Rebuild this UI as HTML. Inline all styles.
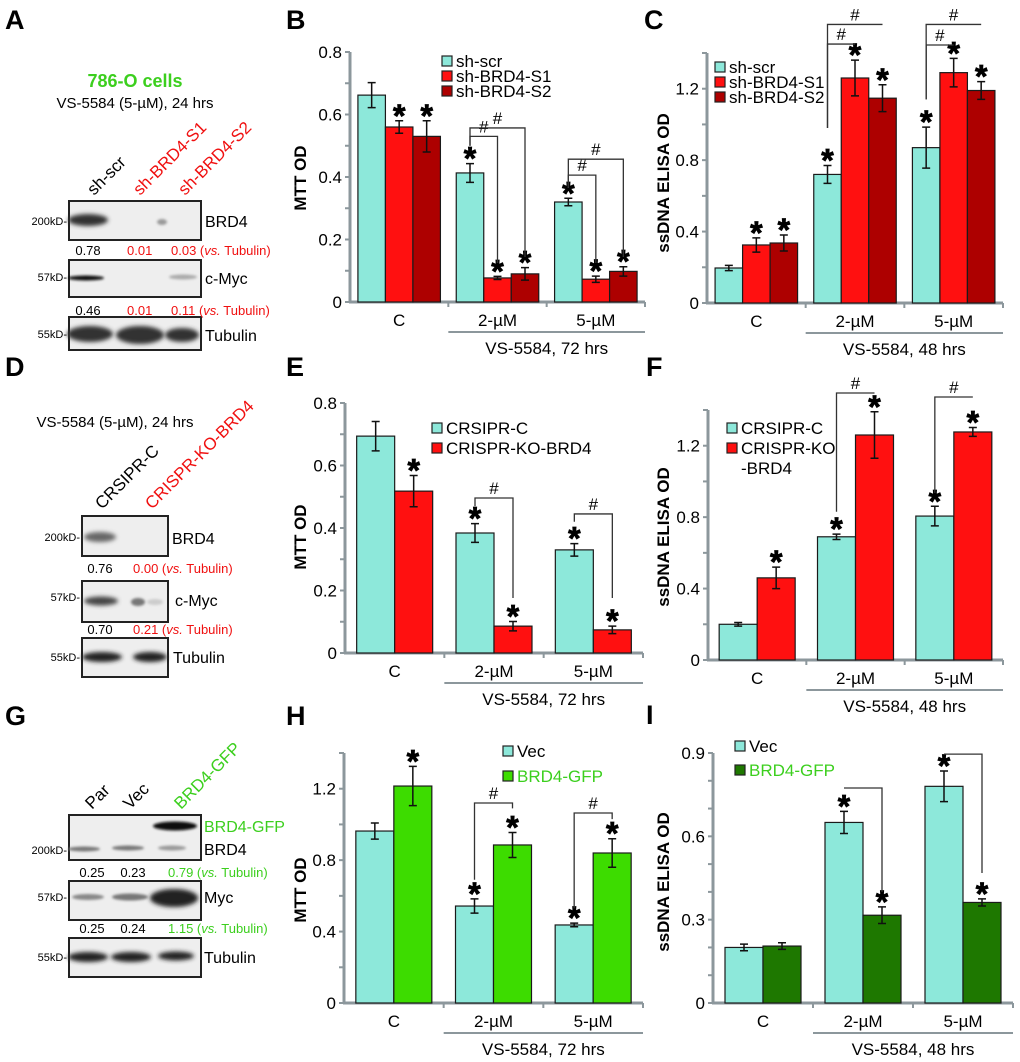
<!DOCTYPE html>
<html><head><meta charset="utf-8">
<style>
html,body{margin:0;padding:0;background:#fff;}
svg{display:block;font-family:"Liberation Sans",Arial,sans-serif;}
</style></head>
<body>
<svg id="fig" width="1020" height="1062" viewBox="0 0 1020 1062" xmlns="http://www.w3.org/2000/svg">
<defs>
<filter id="blur2" x="-50%" y="-100%" width="200%" height="300%"><feGaussianBlur stdDeviation="2.2"/></filter>
<filter id="blur1" x="-50%" y="-100%" width="200%" height="300%"><feGaussianBlur stdDeviation="1.2"/></filter>
</defs>
<g font-weight="bold" font-size="27" fill="#000">
<text x="5" y="29">A</text>
<text x="286" y="29">B</text>
<text x="644" y="29">C</text>
<text x="5" y="376">D</text>
<text x="286" y="376">E</text>
<text x="646" y="376">F</text>
<text x="5" y="725">G</text>
<text x="286" y="725">H</text>
<text x="646" y="724">I</text>
</g>

<!-- Panel A blot -->
<g>
<text x="135" y="87" text-anchor="middle" font-size="18" font-weight="bold" fill="#3ccf1e">786-O cells</text>
<text x="135" y="108" text-anchor="middle" font-size="15">VS-5584 (5-µM), 24 hrs</text>
<text transform="translate(94,196) rotate(-45)" font-size="17">sh-scr</text>
<text transform="translate(140,196) rotate(-45)" font-size="17" fill="#f01010">sh-BRD4-S1</text>
<text transform="translate(185,196) rotate(-45)" font-size="17" fill="#f01010">sh-BRD4-S2</text>
<rect x="69" y="201" width="132" height="39" fill="#eeeeee" stroke="#222" stroke-width="2"/>
<ellipse cx="88" cy="220" rx="20" ry="6" fill="#333" filter="url(#blur2)"/>
<ellipse cx="162" cy="222" rx="5" ry="3" fill="#999" filter="url(#blur1)"/>
<rect x="69" y="260" width="132" height="37" fill="#eeeeee" stroke="#222" stroke-width="2"/>
<ellipse cx="86" cy="278" rx="18" ry="2.5" fill="#111" filter="url(#blur1)"/>
<ellipse cx="183" cy="277" rx="14" ry="2.5" fill="#aaa" filter="url(#blur1)"/>
<rect x="69" y="317" width="132" height="33" fill="#eeeeee" stroke="#222" stroke-width="2"/>
<ellipse cx="90" cy="334" rx="23" ry="8" fill="#333" filter="url(#blur2)"/>
<ellipse cx="140" cy="335" rx="24" ry="9" fill="#333" filter="url(#blur2)"/>
<ellipse cx="182" cy="335" rx="17" ry="7" fill="#333" filter="url(#blur2)"/>
<g font-size="11" text-anchor="end"><text x="67" y="225">200kD-</text><text x="67" y="281">57kD-</text><text x="67" y="338">55kD-</text></g>
<g font-size="16"><text x="205" y="227">BRD4</text><text x="205" y="284">c-Myc</text><text x="205" y="341">Tubulin</text></g>
<g font-size="13" text-anchor="middle"><text x="88" y="255">0.78</text><text x="88" y="315">0.46</text></g>
<g font-size="13" fill="#f01010"><text x="127" y="255">0.01</text><text x="171" y="255">0.03 (<tspan font-style="italic">vs.</tspan> Tubulin)</text><text x="127" y="315">0.01</text><text x="171" y="315">0.11 (<tspan font-style="italic">vs.</tspan> Tubulin)</text></g>
</g>

<!-- Panel D blot -->
<g>
<text x="115" y="427" text-anchor="middle" font-size="15">VS-5584 (5-µM), 24 hrs</text>
<text transform="translate(102,510) rotate(-45)" font-size="17">CRSIPR-C</text>
<text transform="translate(152,510) rotate(-45)" font-size="17" fill="#f01010">CRISPR-KO-BRD4</text>
<rect x="82" y="516" width="86" height="40" fill="#eeeeee" stroke="#222" stroke-width="2"/>
<ellipse cx="100" cy="537" rx="16" ry="5" fill="#666" filter="url(#blur2)"/>
<rect x="82" y="581" width="86" height="41" fill="#eeeeee" stroke="#222" stroke-width="2"/>
<ellipse cx="101" cy="601" rx="17" ry="4.5" fill="#444" filter="url(#blur2)"/>
<ellipse cx="138" cy="602" rx="7" ry="4" fill="#777" filter="url(#blur1)"/>
<ellipse cx="155" cy="602" rx="8" ry="3" fill="#ccc" filter="url(#blur1)"/>
<rect x="82" y="638" width="86" height="39" fill="#eeeeee" stroke="#222" stroke-width="2"/>
<ellipse cx="102" cy="657" rx="20" ry="5" fill="#222" filter="url(#blur2)"/>
<ellipse cx="150" cy="657" rx="17" ry="5" fill="#222" filter="url(#blur2)"/>
<g font-size="11" text-anchor="end"><text x="80" y="541">200kD-</text><text x="80" y="601">57kD-</text><text x="80" y="661">55kD-</text></g>
<g font-size="16"><text x="172" y="544">BRD4</text><text x="175" y="606">c-Myc</text><text x="173" y="663">Tubulin</text></g>
<g font-size="13" text-anchor="middle"><text x="100" y="573">0.76</text><text x="100" y="634">0.70</text></g>
<g font-size="13" fill="#f01010"><text x="133" y="573">0.00 (<tspan font-style="italic">vs.</tspan> Tubulin)</text><text x="133" y="634">0.21 (<tspan font-style="italic">vs.</tspan> Tubulin)</text></g>
</g>

<!-- Panel G blot -->
<g>
<text transform="translate(92,810) rotate(-45)" font-size="17">Par</text>
<text transform="translate(130,810) rotate(-45)" font-size="17">Vec</text>
<text transform="translate(181,810) rotate(-45)" font-size="17" fill="#3ccf1e">BRD4-GFP</text>
<rect x="69" y="815" width="132" height="45" fill="#eeeeee" stroke="#222" stroke-width="2"/>
<ellipse cx="175" cy="826" rx="22" ry="4.5" fill="#111" filter="url(#blur1)"/>
<ellipse cx="84" cy="849" rx="16" ry="2.5" fill="#777" filter="url(#blur1)"/>
<ellipse cx="128" cy="848" rx="16" ry="2.5" fill="#777" filter="url(#blur1)"/>
<ellipse cx="172" cy="848" rx="14" ry="2.5" fill="#999" filter="url(#blur1)"/>
<rect x="69" y="881" width="132" height="39" fill="#eeeeee" stroke="#222" stroke-width="2"/>
<ellipse cx="88" cy="897" rx="16" ry="3" fill="#888" filter="url(#blur1)"/>
<ellipse cx="130" cy="897" rx="18" ry="3.5" fill="#777" filter="url(#blur1)"/>
<ellipse cx="174" cy="898" rx="24" ry="9" fill="#222" filter="url(#blur2)"/>
<rect x="69" y="938" width="132" height="39" fill="#eeeeee" stroke="#222" stroke-width="2"/>
<ellipse cx="88" cy="957" rx="20" ry="5" fill="#222" filter="url(#blur2)"/>
<ellipse cx="131" cy="957" rx="20" ry="5" fill="#222" filter="url(#blur2)"/>
<ellipse cx="176" cy="956" rx="18" ry="4.5" fill="#222" filter="url(#blur2)"/>
<g font-size="11" text-anchor="end"><text x="67" y="854">200kD-</text><text x="67" y="901">57kD-</text><text x="67" y="961">55kD-</text></g>
<text x="204" y="832" font-size="16" fill="#3ccf1e">BRD4-GFP</text>
<g font-size="16"><text x="204" y="855">BRD4</text><text x="204" y="903">Myc</text><text x="204" y="963">Tubulin</text></g>
<g font-size="13" text-anchor="middle"><text x="92" y="877">0.25</text><text x="133" y="877">0.23</text><text x="92" y="933">0.25</text><text x="133" y="933">0.24</text></g>
<g font-size="13" fill="#3ccf1e"><text x="168" y="877">0.79 (<tspan font-style="italic">vs.</tspan> Tubulin)</text><text x="168" y="933">1.15 (<tspan font-style="italic">vs.</tspan> Tubulin)</text></g>
</g>
<g id="charts"></g>
</svg>
<script>
// ---------- chart data ----------
const categories = ['C', '2-µM', '5-µM'];
// Panel B (MTT OD, 72 hrs)
const B_names = ['sh-scr', 'sh-BRD4-S1', 'sh-BRD4-S2'];
const B_scr = [0.662, 0.413, 0.320];
const B_s1 = [0.560, 0.077, 0.073];
const B_s2 = [0.530, 0.090, 0.098];
const B_err_scr = [0.040, 0.030, 0.012];
const B_err_s1 = [0.020, 0.005, 0.010];
const B_err_s2 = [0.050, 0.020, 0.015];
const B_ticks = [0, 0.2, 0.4, 0.6, 0.8];
// Panel C (ssDNA ELISA OD, 48 hrs)
const C_names = ['sh-scr', 'sh-BRD4-S1', 'sh-BRD4-S2'];
const C_scr = [0.196, 0.720, 0.870];
const C_s1 = [0.325, 1.260, 1.290];
const C_s2 = [0.336, 1.147, 1.190];
const C_err_scr = [0.015, 0.050, 0.115];
const C_err_s1 = [0.040, 0.100, 0.080];
const C_err_s2 = [0.045, 0.075, 0.050];
const C_ticks = [0, 0.4, 0.8, 1.2];
// Panel E
const E_names = ['CRSIPR-C', 'CRISPR-KO-BRD4'];
const E_ctrl = [0.694, 0.384, 0.330];
const E_ko = [0.518, 0.086, 0.074];
const E_err_ctrl = [0.047, 0.030, 0.020];
const E_err_ko = [0.050, 0.015, 0.012];
const E_ticks = [0, 0.2, 0.4, 0.6, 0.8];
// Panel F
const F_names = ['CRSIPR-C', 'CRISPR-KO', '-BRD4'];
const F_ctrl = [0.200, 0.690, 0.806];
const F_ko = [0.460, 1.260, 1.277];
const F_err_ctrl = [0.010, 0.015, 0.055];
const F_err_ko = [0.060, 0.130, 0.025];
const F_ticks = [0, 0.4, 0.8, 1.2];
// Panel H
const H_names = ['Vec', 'BRD4-GFP'];
const H_vec = [0.963, 0.543, 0.437];
const H_gfp = [1.215, 0.885, 0.840];
const H_err_vec = [0.045, 0.040, 0.010];
const H_err_gfp = [0.110, 0.070, 0.080];
const H_ticks = [0, 0.4, 0.8, 1.2];
// Panel I
const I_names = ['Vec', 'BRD4-GFP'];
const I_vec = [0.200, 0.650, 0.780];
const I_gfp = [0.205, 0.316, 0.362];
const I_err_vec = [0.012, 0.040, 0.055];
const I_err_gfp = [0.012, 0.030, 0.013];
const I_ticks = [0, 0.3, 0.6, 0.9];

const CYAN = '#8de8da', RED = '#ff1010', DRED = '#ad0000', GREEN = '#3ddc00', DGREEN = '#1e7800';
const AXIS = '#8c979c';
const NS = 'http://www.w3.org/2000/svg';
const root = document.getElementById('charts');

function mk(tag, attrs, parent, txt) {
  const e = document.createElementNS(NS, tag);
  for (const k in attrs) e.setAttribute(k, attrs[k]);
  if (txt !== undefined) e.textContent = txt;
  (parent || root).appendChild(e);
  return e;
}

function drawChart(p) {
  const g = mk('g', {});
  
  
  const y = v => p.base - v / p.max * p.h;
  const band = (p.x1 - p.x0) / p.cats.length;
  const n = p.series.length;
  const x = (gi, si) => p.x0 + band * gi + (band - n * p.bw) / 2 + si * p.bw;
  for (let v = 0; v <= p.max + 1e-9; v += p.minor) {
    mk('line', {x1: p.x0 - 5, x2: p.x0, y1: y(v), y2: y(v), stroke: AXIS, 'stroke-width': 2}, g);
  }
  p.ticks.forEach(t => {
    const tl = mk('text', {x: p.x0 - 8, y: y(t) + 6, 'text-anchor': 'end', 'font-size': 17}, g, String(t));
    
    
  });
  const ya = mk('line', {x1: p.x0, x2: p.x0, y1: p.base + 1, y2: p.base - p.h, stroke: AXIS, 'stroke-width': 3}, g);
  
  
  const xa = mk('line', {x1: p.x0 - 1, x2: p.x1, y1: p.base, y2: p.base, stroke: AXIS, 'stroke-width': 3}, g);
  
  
  for (let i = 1; i <= p.cats.length; i++) {
    mk('line', {x1: p.x0 + band * i, x2: p.x0 + band * i, y1: p.base, y2: p.base + 5, stroke: AXIS, 'stroke-width': 2}, g);
  }
  const yt = mk('text', {transform: `translate(${p.titleX},${p.titleY}) rotate(-90)`, 'text-anchor': 'middle', 'font-size': 17, 'font-weight': 'bold'}, g, p.title);
  
  
  p.cats.forEach((c, i) => {
    const cl = mk('text', {x: p.x0 + band * (i + 0.5), y: p.base + 24, 'text-anchor': 'middle', 'font-size': 17}, g, c);
    
    
  });
  mk('line', {x1: p.x0 + band, x2: p.x1, y1: p.base + 30, y2: p.base + 30, stroke: AXIS, 'stroke-width': 2}, g);
  const sub = mk('text', {x: (p.x0 + band + p.x1) / 2, y: p.base + 52, 'text-anchor': 'middle', 'font-size': 17}, g, p.sub);
  
  
  p.series.forEach((s, si) => {
    s.vals.forEach((v, gi) => {
      const bx = x(gi, si);
      const r = mk('rect', {x: bx, y: y(v), width: p.bw, height: p.base - y(v), fill: s.color, stroke: '#1a1a1a', 'stroke-width': 1.2}, g);
      
      
      const cx = bx + p.bw / 2, e = s.err[gi];
      mk('path', {d: `M${cx},${y(v + e)}V${y(v - e)}M${cx - 4},${y(v + e)}h8M${cx - 4},${y(v - e)}h8`, stroke: '#111', 'stroke-width': 1.5, fill: 'none'}, g);
      if (s.stars[gi]) {
        const st = mk('text', {x: cx, y: y(v + e) + 6, 'text-anchor': 'middle', 'font-size': 32, 'font-weight': 'bold', stroke: '#000', 'stroke-width': 0.8}, g, '*');
        
        
      }
    });
  });
  (p.brackets || []).forEach(b => {
    const xa_ = x(b.g, b.a) + p.bw / 2, xb_ = x(b.g, b.b) + p.bw / 2;
    let d = `M${xa_},${b.ya === null ? y(b.y) : y(b.ya)}V${y(b.y)}H${xb_}`;
    if (b.yb !== null) d += `V${y(b.yb)}`;
    const br = mk('path', {d: d, stroke: '#333', 'stroke-width': 1.3, fill: 'none'}, g);
    
    
    if (b.hash) mk('text', {x: (xa_ + xb_) / 2, y: y(b.y) - 4, 'text-anchor': 'middle', 'font-size': 17}, g, '#');
  });
  p.legend.forEach((l, i) => {
    const ly = p.legY + i * p.legDy;
    if (l.color) {
      const sw = mk('rect', {x: p.legX, y: ly - 6, width: 10, height: 10, fill: l.color, stroke: '#222', 'stroke-width': 1.2}, g);
      
      
    }
    const lt = mk('text', {x: p.legX + 14, y: ly + 5, 'font-size': 17, fill: l.tcolor || '#000'}, g, l.text);
    
    
  });
}

drawChart({id: 'chart-b', x0: 350, x1: 645, base: 302, h: 250, max: 0.8, minor: 0.1, bw: 27.5, ticks: B_ticks, cats: categories,
  title: 'MTT OD', titleX: 306, titleY: 178, sub: 'VS-5584, 72 hrs',
  series: [
    {key: 'sh-scr', vals: B_scr, err: B_err_scr, color: CYAN, stars: [0, 1, 1]},
    {key: 'sh-brd4-s1', vals: B_s1, err: B_err_s1, color: RED, stars: [1, 1, 1]},
    {key: 'sh-brd4-s2', vals: B_s2, err: B_err_s2, color: DRED, stars: [1, 1, 1]}],
  brackets: [
    {g: 1, a: 0, b: 1, y: 0.53, ya: 0.50, yb: 0.125, hash: 1},
    {g: 1, a: 0, b: 2, y: 0.557, ya: 0.50, yb: 0.144, hash: 1},
    {g: 2, a: 0, b: 1, y: 0.406, ya: 0.365, yb: 0.125, hash: 1},
    {g: 2, a: 0, b: 2, y: 0.457, ya: 0.365, yb: 0.144, hash: 1}],
  legX: 442, legY: 62, legDy: 15,
  legend: [{text: B_names[0], color: CYAN}, {text: B_names[1], color: RED}, {text: B_names[2], color: DRED}]});

drawChart({id: 'chart-c', x0: 707, x1: 1003, base: 303, h: 250, max: 1.4, minor: 0.2, bw: 27.5, ticks: C_ticks, cats: categories,
  title: 'ssDNA ELISA OD', titleX: 669, titleY: 183, sub: 'VS-5584, 48 hrs',
  series: [
    {key: 'sh-scr', vals: C_scr, err: C_err_scr, color: CYAN, stars: [0, 1, 1]},
    {key: 'sh-brd4-s1', vals: C_s1, err: C_err_s1, color: RED, stars: [1, 1, 1]},
    {key: 'sh-brd4-s2', vals: C_s2, err: C_err_s2, color: DRED, stars: [1, 1, 1]}],
  brackets: [
    {g: 1, a: 0, b: 1, y: 1.45, ya: 0.98, yb: null, hash: 1},
    {g: 1, a: 0, b: 2, y: 1.56, ya: 0.98, yb: null, hash: 1},
    {g: 2, a: 0, b: 1, y: 1.445, ya: 1.14, yb: null, hash: 1},
    {g: 2, a: 0, b: 2, y: 1.56, ya: 1.14, yb: null, hash: 1}],
  legX: 715, legY: 68, legDy: 15,
  legend: [{text: C_names[0], color: CYAN}, {text: C_names[1], color: RED}, {text: C_names[2], color: DRED}]});

drawChart({id: 'chart-e', x0: 345, x1: 643, base: 653, h: 250, max: 0.8, minor: 0.1, bw: 38, ticks: E_ticks, cats: categories,
  title: 'MTT OD', titleX: 306, titleY: 537, sub: 'VS-5584, 72 hrs',
  series: [
    {key: 'crsipr-c', vals: E_ctrl, err: E_err_ctrl, color: CYAN, stars: [0, 1, 1]},
    {key: 'crispr-ko-brd4', vals: E_ko, err: E_err_ko, color: RED, stars: [1, 1, 1]}],
  brackets: [
    {g: 1, a: 0, b: 1, y: 0.496, ya: 0.47, yb: 0.176, hash: 1},
    {g: 2, a: 0, b: 1, y: 0.445, ya: 0.42, yb: 0.176, hash: 1}],
  legX: 432, legY: 429, legDy: 20,
  legend: [{text: E_names[0], color: CYAN}, {text: E_names[1], color: RED}]});

drawChart({id: 'chart-f', x0: 708, x1: 1003, base: 660, h: 250, max: 1.4, minor: 0.2, bw: 38, ticks: F_ticks, cats: categories,
  title: 'ssDNA ELISA OD', titleX: 669, titleY: 537, sub: 'VS-5584, 48 hrs',
  series: [
    {key: 'crsipr-c', vals: F_ctrl, err: F_err_ctrl, color: CYAN, stars: [0, 1, 1]},
    {key: 'crispr-ko-brd4', vals: F_ko, err: F_err_ko, color: RED, stars: [1, 1, 1]}],
  brackets: [
    {g: 1, a: 0, b: 1, y: 1.495, ya: 0.83, yb: null, hash: 1},
    {g: 2, a: 0, b: 1, y: 1.473, ya: 0.935, yb: null, hash: 1}],
  legX: 727, legY: 429, legDy: 20,
  legend: [{text: F_names[0], color: CYAN}, {text: F_names[1], color: RED}, {text: F_names[2], color: null}]});

drawChart({id: 'chart-h', x0: 344, x1: 643, base: 1003, h: 250, max: 1.4, minor: 0.2, bw: 38, ticks: H_ticks, cats: categories,
  title: 'MTT OD', titleX: 306, titleY: 890, sub: 'VS-5584, 72 hrs',
  series: [
    {key: 'vec', vals: H_vec, err: H_err_vec, color: CYAN, stars: [0, 1, 1]},
    {key: 'brd4-gfp', vals: H_gfp, err: H_err_gfp, color: GREEN, stars: [1, 1, 1]}],
  brackets: [
    {g: 1, a: 0, b: 1, y: 1.12, ya: 0.69, yb: 1.09, hash: 1},
    {g: 2, a: 0, b: 1, y: 1.064, ya: 0.53, yb: 1.03, hash: 1}],
  legX: 503, legY: 752, legDy: 25,
  legend: [{text: H_names[0], color: CYAN}, {text: H_names[1], color: GREEN, tcolor: '#3ccf1e'}]});

drawChart({id: 'chart-i', x0: 713, x1: 1013, base: 1003, h: 250, max: 0.9, minor: 0.1, bw: 38, ticks: I_ticks, cats: categories,
  title: 'ssDNA ELISA OD', titleX: 669, titleY: 882, sub: 'VS-5584, 48 hrs',
  series: [
    {key: 'vec', vals: I_vec, err: I_err_vec, color: CYAN, stars: [0, 1, 1]},
    {key: 'brd4-gfp', vals: I_gfp, err: I_err_gfp, color: DGREEN, stars: [0, 1, 1]}],
  brackets: [
    {g: 1, a: 0, b: 1, y: 0.774, ya: null, yb: 0.40, hash: 0},
    {g: 2, a: 0, b: 1, y: 0.896, ya: null, yb: 0.468, hash: 0}],
  legX: 735, legY: 747, legDy: 24,
  legend: [{text: I_names[0], color: CYAN}, {text: I_names[1], color: DGREEN, tcolor: '#3ccf1e'}]});
</script>
</body></html>
